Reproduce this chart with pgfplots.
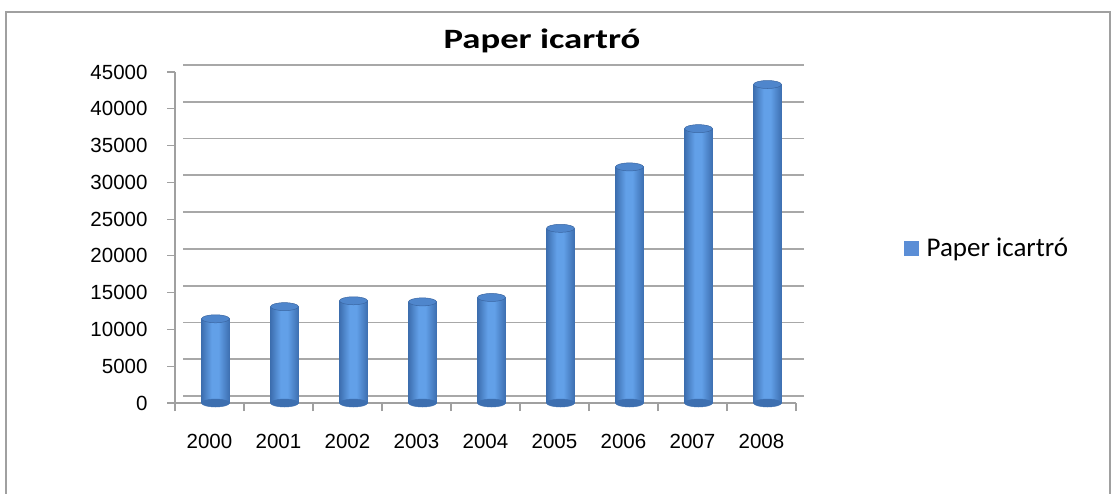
\documentclass[border=0pt]{standalone}
\usepackage{fontspec}
\setmainfont{Liberation Sans}
\newfontfamily\calibri{Carlito}
\newfontfamily\calibriT[FakeStretch=1.31]{Carlito}
\usepackage{pgfplots}
\pgfplotsset{compat=1.18}
\definecolor{cylD}{HTML}{3D6FB0}
\definecolor{cylL}{HTML}{62A0E8}
\definecolor{cylT}{HTML}{4F86CC}
\definecolor{cylR}{HTML}{3A66A2}
\definecolor{legB}{HTML}{5B8ED6}
\definecolor{gridC}{HTML}{A8A8A8}
\definecolor{frameC}{HTML}{A0A0A0}
\pgfdeclarehorizontalshading{cyl}{100bp}{color(0bp)=(cylD); color(25bp)=(cylD); color(43bp)=(cylL); color(55bp)=(cylL); color(75bp)=(cylD); color(100bp)=(cylD)}
\pgfplotsset{cylbar/.style={ybar, bar width=28pt, bar shift=6pt, draw=none, shading=cyl, forget plot}}
\begin{document}
\begin{tikzpicture}[x=1pt,y=1pt]
\useasboundingbox (0,0) rectangle (1115,-493);
\clip (0,0) rectangle (1115,-493);
\fill[white] (0,0) rectangle (1115,-493);
\draw[frameC, line width=2pt] (6,-600) -- (6,-12) -- (1110,-12) -- (1110,-600);
\node[font=\calibriT\bfseries\fontsize{28}{32}\selectfont] at (542,-41) {Paper icartró};
\begin{axis}[
  width=621pt, height=331pt, scale only axis,
  at={(175pt,-403pt)}, anchor=south west,
  xmin=-0.5, xmax=8.5, ymin=0, ymax=45000,
  axis lines*=left,
  axis line style={frameC, line width=1.5pt},
  xtick={-0.5,0.5,...,8.5}, x tick label as interval,
  xticklabels={2000,2001,2002,2003,2004,2005,2006,2007,2008},
  ytick={0,5000,...,45000},
  tick align=outside, major tick length=8pt,
  tick style={frameC, line width=1.2pt},
  ymajorgrids,
  major grid style={gridC, line width=1.8pt, xshift=8pt, yshift=7pt},
  scaled y ticks=false,
  yticklabel style={/pgf/number format/1000 sep={}, xshift=-16pt},
  xticklabel style={yshift=-20pt},
  tick label style={font=\fontsize{20.5}{24}\selectfont},
  /pgf/number format/assume math mode=true,
  clip=false,
  legend style={at={(1.174,0.468)}, anchor=west, draw=none, fill=none,
    font=\calibri\fontsize{27}{30}\selectfont, inner sep=0pt},
]
\addplot[forget plot, only marks, mark=*, mark size=4pt,
  mark options={xshift=6pt, xscale=3.5, fill=cylD, draw=cylD}]
  coordinates {(0,0) (1,0) (2,0) (3,0) (4,0) (5,0) (6,0) (7,0) (8,0)};
\addplot[cylbar] coordinates {(0,11450)};
\addplot[cylbar] coordinates {(1,13100)};
\addplot[cylbar] coordinates {(2,13900)};
\addplot[cylbar] coordinates {(3,13750)};
\addplot[cylbar] coordinates {(4,14350)};
\addplot[cylbar] coordinates {(5,23750)};
\addplot[cylbar] coordinates {(6,32100)};
\addplot[cylbar] coordinates {(7,37300)};
\addplot[cylbar] coordinates {(8,43300)};
\addplot[forget plot, only marks, mark=*, mark size=4pt,
  mark options={xshift=6pt, xscale=3.5, fill=cylT, draw=cylR, line width=0.5pt}]
  coordinates {(0,11450) (1,13100) (2,13900) (3,13750) (4,14350) (5,23750) (6,32100) (7,37300) (8,43300)};
\addlegendimage{legend image code/.code={\fill[legB] (0pt,-7pt) rectangle (14pt,7pt); \path (20pt,0pt);}}
\addlegendentry{Paper icartró}
\end{axis}
\end{tikzpicture}
\end{document}
